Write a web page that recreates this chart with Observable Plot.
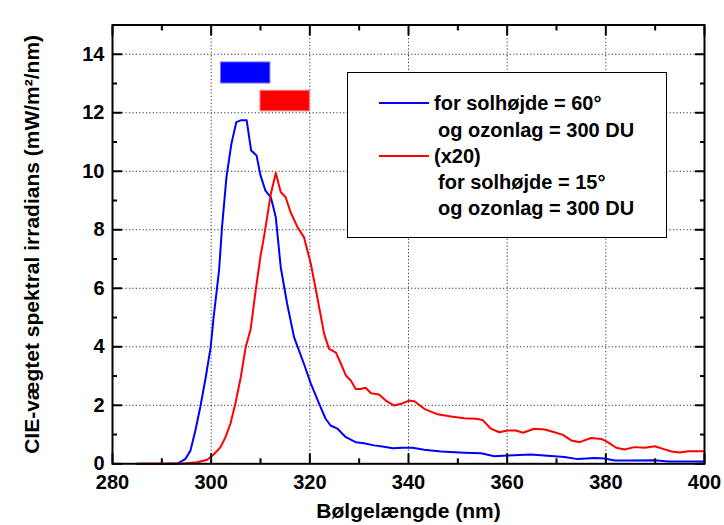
<!DOCTYPE html>
<html>
<head>
<meta charset="utf-8">
<script src="https://cdn.jsdelivr.net/npm/d3@7"></script>
<script src="https://cdn.jsdelivr.net/npm/@observablehq/plot@0.6"></script>
<style>
  body { margin: 0; background: #fff; }
  #wrap { position: relative; width: 724px; height: 525px; font-family: "Liberation Sans", Arial, sans-serif; font-weight: bold; }
  #legend { position: absolute; left: 347px; top: 72px; width: 318px; height: 164px; border: 1.5px solid #000; background: #fff; }
  .row { position: absolute; font-size: 20px; line-height: 26px; white-space: nowrap; color: #000; }
  .swatch { position: absolute; height: 2px; width: 50px; }
</style>
</head>
<body>
<div id="wrap"></div>
<script>
// ---- data ----
const blueWavelength = [285, 290, 293.1, 294.8, 295.8, 296.8, 297.8, 298.9, 299.9, 300.5, 301.6, 302.2, 303.1, 304.1, 305.1, 306.0, 307.2, 308.1, 309.2, 310.0, 311.0, 312.1, 313.1, 314.1, 315.4, 316.8, 318.8, 320.2, 321.9, 323.2, 324.2, 325.6, 327.3, 329.3, 331.0, 333.0, 334.7, 336.8, 338.8, 340.8, 343.2, 346.6, 351.3, 354.7, 357.4, 360.1, 364.8, 368.9, 371.6, 374.3, 377.7, 379.7, 381.8, 385.2, 389.9, 392.6, 400];
const blueIrradiance = [0, 0, 0, 0.17, 0.45, 1.14, 1.94, 2.96, 3.99, 5.01, 6.61, 8.09, 9.80, 10.94, 11.68, 11.74, 11.74, 10.71, 10.54, 9.86, 9.34, 9.11, 8.43, 6.72, 5.47, 4.33, 3.42, 2.74, 2.05, 1.54, 1.31, 1.20, 0.91, 0.74, 0.70, 0.63, 0.59, 0.53, 0.55, 0.55, 0.48, 0.42, 0.38, 0.36, 0.26, 0.28, 0.32, 0.27, 0.23, 0.16, 0.20, 0.18, 0.11, 0.11, 0.12, 0.08, 0.08];

const redWavelength = [285, 290, 295, 297.2, 299.2, 300.5, 301.9, 302.9, 303.9, 304.9, 306.0, 307.0, 308.0, 309.0, 310.0, 310.7, 312.1, 313.1, 314.1, 315.1, 316.1, 317.5, 318.8, 320.2, 321.5, 322.9, 323.9, 325.3, 326.3, 327.3, 328.3, 329.3, 330.3, 331.3, 332.4, 334.0, 335.4, 337.1, 338.5, 340.1, 341.2, 343.2, 345.9, 348.6, 351.3, 353.7, 355.0, 356.7, 358.4, 360.1, 361.8, 363.2, 365.5, 367.6, 369.6, 371.3, 373.0, 374.7, 377.0, 379.1, 380.4, 382.1, 383.8, 385.8, 387.9, 389.9, 391.6, 393.3, 395.0, 396.7, 400];
const redIrradiance = [0, 0, 0.02, 0.05, 0.14, 0.32, 0.57, 0.91, 1.37, 2.05, 2.96, 3.99, 4.6, 5.9, 7.1, 7.75, 9.23, 9.94, 9.29, 9.11, 8.60, 8.09, 7.75, 6.84, 5.70, 4.44, 3.93, 3.80, 3.42, 3.02, 2.85, 2.56, 2.56, 2.60, 2.41, 2.37, 2.16, 1.99, 2.05, 2.16, 2.14, 1.88, 1.69, 1.62, 1.56, 1.54, 1.50, 1.20, 1.08, 1.14, 1.14, 1.06, 1.20, 1.17, 1.08, 0.99, 0.80, 0.74, 0.88, 0.85, 0.74, 0.55, 0.49, 0.57, 0.55, 0.60, 0.51, 0.42, 0.39, 0.43, 0.43];

// bars in upper left (wavelength band, irradiance band)
const barSeries = ["blue", "red"];
const barX1 = [302, 310];
const barX2 = [312, 320];
const barY1 = [13.0, 12.05];
const barY2 = [13.72, 12.75];

const xMajorTicks = [280, 300, 320, 340, 360, 380, 400];
const xMinorTicks = [290, 310, 330, 350, 370, 390];
const yMajorTicks = [0, 2, 4, 6, 8, 10, 12, 14];
const yMinorTicks = [1, 3, 5, 7, 9, 11, 13];

const xTitle = "Bølgelængde (nm)";
const yTitle = "CIE-vægtet spektral irradians (mW/m²/nm)";
const legendSeries = ["blue", "", "red", "", ""];
const legendLabels = ["for solhøjde = 60°", "og ozonlag = 300 DU", "(x20)", "for solhøjde = 15°", "og ozonlag = 300 DU"];

// ---- build ----
const colors = { blue: "#0000ff", red: "#ff0000" };
const edgeColors = { blue: "#7070ff", red: "#ff7070" };
const bars = barSeries.map((s, i) => ({ s, x1: barX1[i], x2: barX2[i], y1: barY1[i], y2: barY2[i] }));
const empty = () => "";
const gridStyle = { stroke: "#333", strokeOpacity: 1, strokeWidth: 1, strokeDasharray: "1.2,2.2" };

const chart = Plot.plot({
  width: 724,
  height: 525,
  marginLeft: 112,
  marginRight: 20,
  marginTop: 24.5,
  marginBottom: 61.7,
  x: { domain: [280, 400] },
  y: { domain: [0, 15] },
  style: { fontFamily: "'Liberation Sans', Arial, sans-serif", fontWeight: "bold", fontSize: "20px", color: "#000", background: "#fff", overflow: "visible" },
  marks: [
    Plot.gridX(xMajorTicks.slice(1, -1), gridStyle),
    Plot.gridY(yMajorTicks.slice(1), gridStyle),
    Plot.rect(bars, { x1: "x1", x2: "x2", y1: "y1", y2: "y2", fill: d => colors[d.s], stroke: d => edgeColors[d.s], strokeWidth: 1 }),
    Plot.line(blueIrradiance, { x: blueWavelength, y: blueIrradiance, stroke: colors.blue, strokeWidth: 2, strokeLinejoin: "round" }),
    Plot.line(redIrradiance, { x: redWavelength, y: redIrradiance, stroke: colors.red, strokeWidth: 2, strokeLinejoin: "round" }),
    // tick labels
    Plot.axisX(xMajorTicks, { anchor: "bottom", tickSize: 0, tickPadding: 11, fontSize: 20, fontWeight: "bold", label: null }),
    Plot.axisY(yMajorTicks, { anchor: "left", tickSize: 0, tickPadding: 8, fontSize: 20, fontWeight: "bold", label: null }),
    // inward ticks, all four sides
    Plot.axisX(xMajorTicks, { anchor: "bottom", tickSize: -10, tickFormat: empty, strokeWidth: 2, label: null }),
    Plot.axisX(xMinorTicks, { anchor: "bottom", tickSize: -5, tickFormat: empty, strokeWidth: 2, label: null }),
    Plot.axisX(xMajorTicks, { anchor: "top", tickSize: -10, tickFormat: empty, strokeWidth: 2, label: null }),
    Plot.axisX(xMinorTicks, { anchor: "top", tickSize: -5, tickFormat: empty, strokeWidth: 2, label: null }),
    Plot.axisY(yMajorTicks, { anchor: "left", tickSize: -10, tickFormat: empty, strokeWidth: 2, label: null }),
    Plot.axisY(yMinorTicks, { anchor: "left", tickSize: -5, tickFormat: empty, strokeWidth: 2, label: null }),
    Plot.axisY(yMajorTicks, { anchor: "right", tickSize: -10, tickFormat: empty, strokeWidth: 2, label: null }),
    Plot.axisY(yMinorTicks, { anchor: "right", tickSize: -5, tickFormat: empty, strokeWidth: 2, label: null }),
    Plot.frame({ stroke: "#000", strokeWidth: 2 }),
    // axis titles
    Plot.text([xTitle], { frameAnchor: "bottom", textAnchor: "middle", lineAnchor: "middle", dy: 47, fontSize: 21, fontWeight: "bold", fill: "#000" }),
    Plot.text([yTitle], { frameAnchor: "left", textAnchor: "middle", lineAnchor: "middle", rotate: -90, dx: -80, dy: 0, fontSize: 21, fontWeight: "bold", fill: "#000" })
  ]
});

const wrap = document.getElementById("wrap");
wrap.appendChild(chart);

// legend (inside the plot area, upper right)
const legend = document.createElement("div");
legend.id = "legend";
const rowCenters = [30, 57, 83, 109, 135];
const textLeft = [86, 90, 86, 90, 90];
legendLabels.forEach((txt, i) => {
  const t = document.createElement("div");
  t.className = "row";
  t.style.left = textLeft[i] + "px";
  t.style.top = (rowCenters[i] - 13) + "px";
  t.textContent = txt;
  legend.appendChild(t);
  if (legendSeries[i]) {
    const sw = document.createElement("div");
    sw.className = "swatch";
    sw.style.left = "31px";
    sw.style.top = (rowCenters[i] - 1) + "px";
    sw.style.background = colors[legendSeries[i]];
    legend.appendChild(sw);
  }
});
wrap.appendChild(legend);
</script>
</body>
</html>
